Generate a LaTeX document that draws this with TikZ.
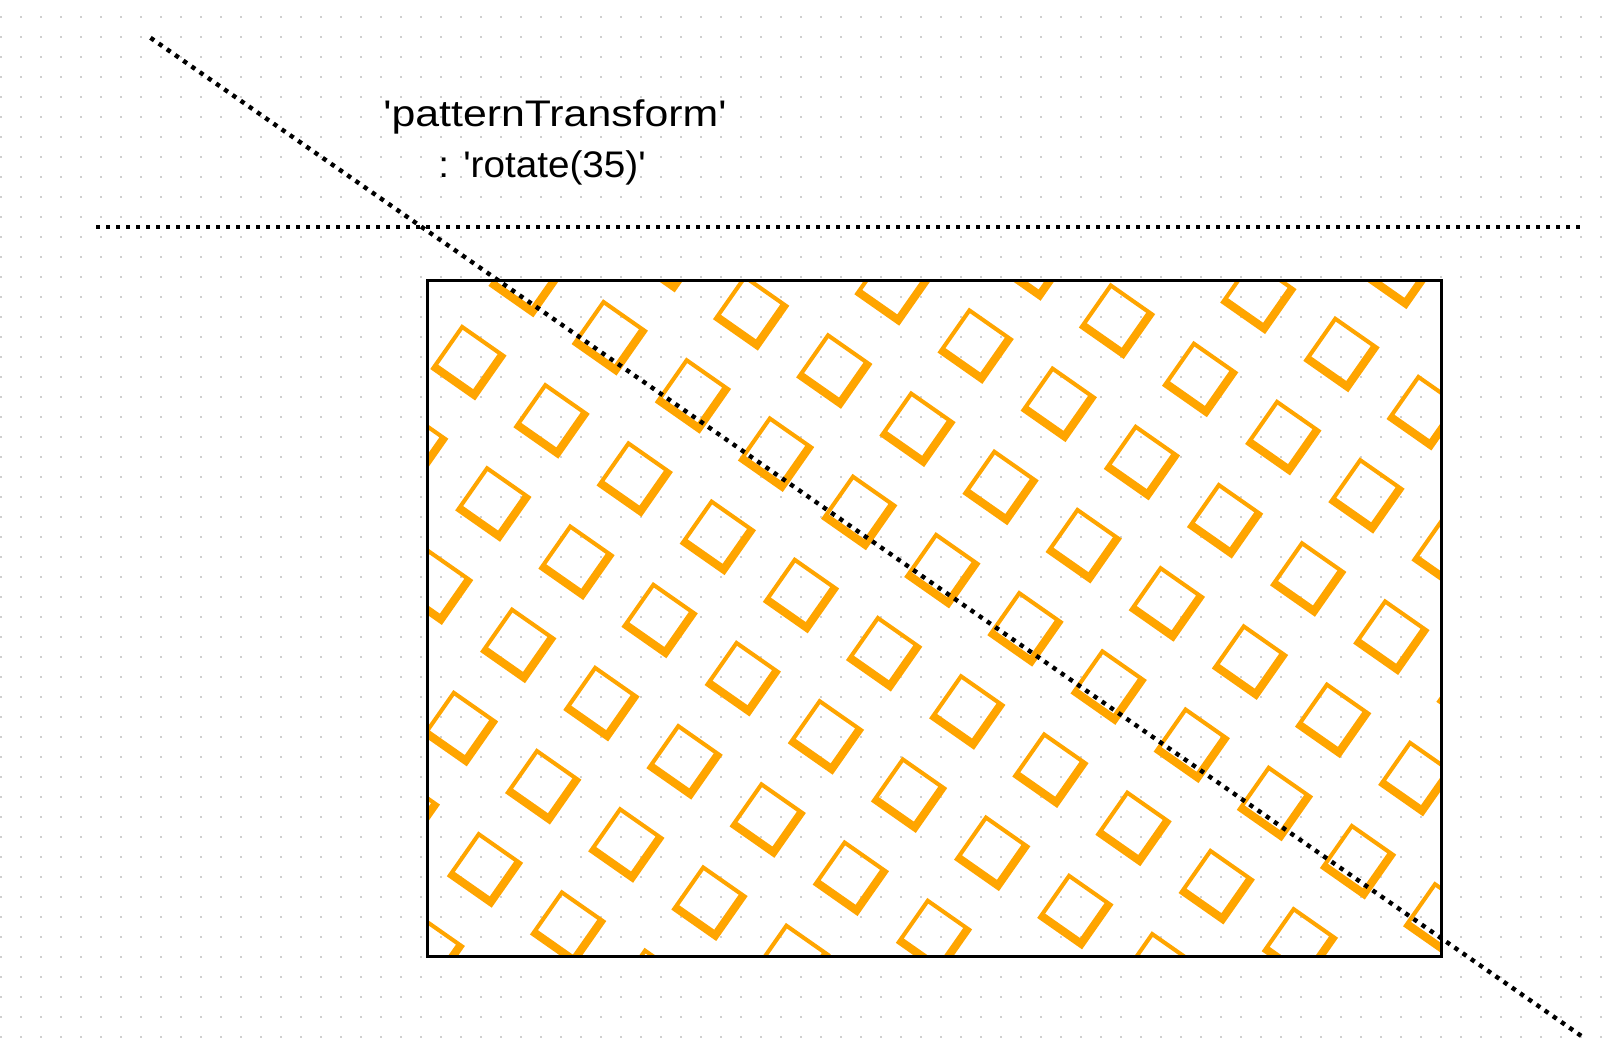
\documentclass[tikz,border=0pt]{standalone}
\usepackage{fontspec}
\usepackage{graphicx}
\newfontfamily\labelfont{Liberation Sans}
\definecolor{patorange}{HTML}{FFA500}
\definecolor{griddot}{HTML}{CFCFCF}
\begin{document}
\begin{tikzpicture}[x=0.5pt,y=-0.5pt,
  dotline/.style={black, line width=2.2pt, dash pattern=on 2.2pt off 2.8pt},
  gridrow/.style={griddot, line width=1pt, dash pattern=on 1pt off 9pt},
  frame/.style={draw=black, line width=1.5pt},
  tilefill/.style={fill=patorange, even odd rule},
  caption/.style={font=\labelfont\fontsize{18.5pt}{22pt}\selectfont, inner sep=0pt, anchor=base}]
\useasboundingbox (0,0) rectangle (1612,1050);
\fill[white] (0,0) rectangle (1612,1050);
% dot grid
\foreach \j in {0,...,51}{
  \draw[gridrow] (0,{16.7+20*\j}) -- (1612,{16.7+20*\j});
}
% named corners
\coordinate (boxNW) at (427.5,280.8);
\coordinate (boxSE) at (1441,956.8);
\coordinate (hStart) at (96,226.7);
\coordinate (hEnd) at (1582,226.7);
\coordinate (dStart) at (150.5,37.8);
\coordinate (dEnd) at (1584.1,1037.9);
% pattern
\begin{scope}
  \clip (boxNW) rectangle (boxSE);
  \begin{scope}[x={(0.409576pt,-0.286788pt)}, y={(-0.286788pt,-0.409576pt)}]
    \foreach \i in {3,...,17}{
      \foreach \j in {-7,...,6}{
        \pgfmathsetmacro{\ta}{56.6+101.5*\i}
        \pgfmathsetmacro{\tb}{0.7+101.5*\j}
        \pgfmathsetmacro{\ua}{\ta+4.05}
        \pgfmathsetmacro{\ub}{\tb+4.05}
        \fill[tilefill] (\ta,\tb) -- ++(54.8,0) -- ++(0,54.8) -- ++(-54.8,0) -- cycle
          (\ua,\ub) -- ++(42.65,0) -- ++(0,42.65) -- ++(-42.65,0) -- cycle;
      }
    }
  \end{scope}
\end{scope}
% frame
\draw[frame] (boxNW) rectangle (boxSE);
% dotted lines
\draw[dotline] (hStart) -- (hEnd);
\draw[dotline] (dStart) -- (dEnd);
% text
\node[caption] (t1) at (555,126.7) {\scalebox{1.157}[1]{'patternTransform'}};
\node[caption] (t2) at (542,177.3) {\scalebox{1.045}[1]{: 'rotate(35)'}};
\end{tikzpicture}
\end{document}
